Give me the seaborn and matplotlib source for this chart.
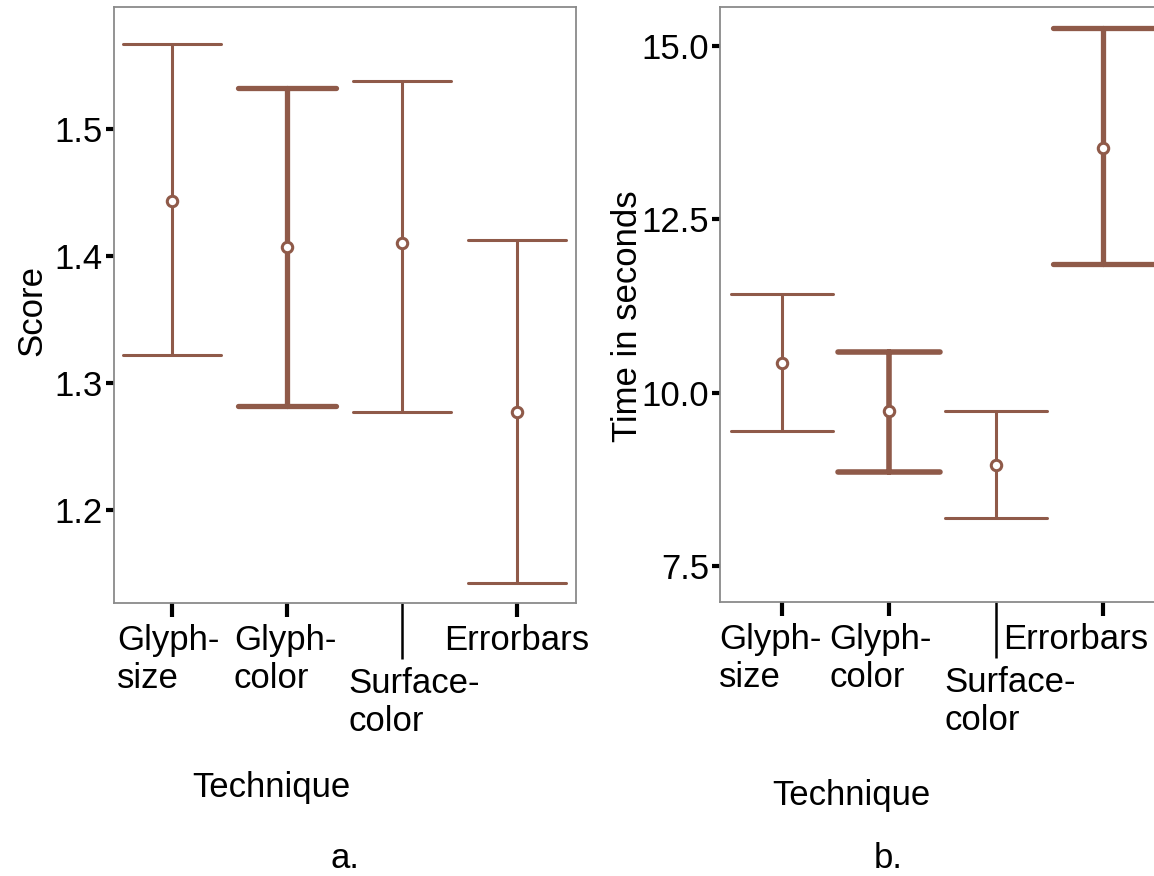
import numpy as np
import pandas as pd
import matplotlib
matplotlib.use("Agg")
import matplotlib.pyplot as plt
import matplotlib.transforms as mtransforms
import seaborn as sns

# ---- data ----
techniques = ["Glyph-\nsize", "Glyph-\ncolor", "Surface-\ncolor", "Errorbars"]
score_mean = [1.443, 1.407, 1.410, 1.277]
score_lo = [1.322, 1.282, 1.277, 1.143]
score_hi = [1.567, 1.532, 1.538, 1.413]
time_mean = [10.42, 9.73, 8.96, 13.53]
time_lo = [9.44, 8.86, 8.19, 11.86]
time_hi = [11.42, 10.59, 9.73, 15.26]
score_ticks = [1.2, 1.3, 1.4, 1.5]
time_ticks = [7.5, 10.0, 12.5, 15.0]

sns.set_style("white")
plt.rcParams["font.family"] = ["Liberation Sans", "DejaVu Sans"]
plt.rcParams["text.color"] = "black"
plt.rcParams["axes.labelcolor"] = "black"
plt.rcParams["xtick.color"] = "black"
plt.rcParams["ytick.color"] = "black"

COL = "#8f5a49"
FS = 25


def long_df(lo, mid, hi):
    rows = []
    for t, a, b, c in zip(techniques, lo, mid, hi):
        for v in (a, b, c):
            rows.append({"Technique": t, "value": v})
    return pd.DataFrame(rows)


W, H = 1154, 876
fig = plt.figure(figsize=(W / 100, H / 100), dpi=100)
axL = fig.add_axes([114 / W, (H - 603) / H, (576 - 114) / W, (603 - 7) / H])
axR = fig.add_axes([720 / W, (H - 602) / H, (1157 - 720) / W, (602 - 7) / H])


def draw(ax, lo, mid, hi, capsize, widths, ylim, yticks, ylabel, yfmt):
    df = long_df(lo, mid, hi)
    sns.pointplot(data=df, x="Technique", y="value", order=techniques,
                  estimator="median", errorbar=("pi", 100), capsize=capsize,
                  color=COL, linestyle="none", marker="o", markersize=7.5,
                  markeredgewidth=2.2, markerfacecolor="white", zorder=3,
                  err_kws={"zorder": 2, "linewidth": 2.2}, ax=ax)
    errlines = [l for l in ax.lines if len(l.get_xdata()) == 8]
    for l, w in zip(errlines, widths):
        l.set_linewidth(w)
    ax.set_ylim(*ylim)
    ax.set_yticks(yticks)
    ax.set_yticklabels([yfmt.format(v) for v in yticks], fontsize=FS,
                       color="black")
    ax.set_ylabel(ylabel, fontsize=FS, color="black")
    ax.set_xlabel("Technique", fontsize=FS, color="black")
    for s in ax.spines.values():
        s.set_color("#8a8a8a")
        s.set_linewidth(1.3)
    ax.tick_params(axis="y", length=6, width=3, color="black", pad=2,
                   labelsize=FS, labelcolor="black", left=True)
    ax.tick_params(axis="x", length=10, width=3, color="black", pad=5,
                   labelsize=FS, labelcolor="black", bottom=True)
    tk = ax.xaxis.get_major_ticks()[2]
    tk._apply_params(size=40, width=1.8, pad=6)
    for lab in ax.get_xticklabels():
        lab.set_multialignment("left")
        lab.set_fontsize(FS)
        lab.set_color("black")


def shift_labels(ax, offsets_px):
    for lab, dx in zip(ax.get_xticklabels(), offsets_px):
        off = mtransforms.ScaledTranslation(dx / 100, 0, fig.dpi_scale_trans)
        lab.set_transform(lab.get_transform() + off)


draw(axL, score_lo, score_mean, score_hi, 0.86, [2.2, 3.8, 2.2, 2.2],
     (1.127, 1.596), score_ticks, "Score", "{:.1f}")
axL.set_xlim(-0.504, 3.513)
axL.yaxis.set_label_coords(-0.143, 0.49)
axL.xaxis.set_label_coords(0.34, -0.282)
shift_labels(axL, [-4, -2, 12, 0])

draw(axR, time_lo, time_mean, time_hi, 0.95, [2.2, 4.0, 2.2, 3.8],
     (6.98, 15.56), time_ticks, "Time in seconds", "{:.1f}")
axR.set_xlim(-0.58, 3.5)
axR.yaxis.set_label_coords(-0.173, 0.48)
axR.xaxis.set_label_coords(0.30, -0.298)
shift_labels(axR, [-12, -9, 14, -28])

fig.text(345 / W, 1 - 858 / H, "a.", fontsize=FS, ha="center", va="center")
fig.text(888 / W, 1 - 858 / H, "b.", fontsize=FS, ha="center", va="center")

fig.savefig("out.png", dpi=100, facecolor="white")
